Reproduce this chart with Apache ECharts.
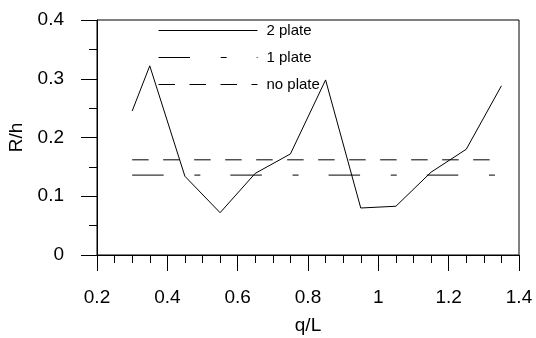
<!DOCTYPE html>
<html>
<head>
<meta charset="utf-8">
<script src="https://cdn.jsdelivr.net/npm/echarts@6/dist/echarts.min.js"></script>
<style>
  html, body { margin: 0; padding: 0; background: #fff; }
  #chart { width: 536px; height: 338px; }
</style>
</head>
<body>
<div id="chart"></div>
<script>
// q/L positions
var qL = [0.3, 0.35, 0.45, 0.55, 0.65, 0.75, 0.85, 0.95, 1.05, 1.15, 1.25, 1.35]
// R/h values
var twoPlate = [0.245, 0.322, 0.134, 0.072, 0.139, 0.172, 0.298, 0.080, 0.083, 0.141, 0.180, 0.288]
var onePlateX = [0.3, 1.35]
var onePlate = [0.136, 0.136]
var noPlateX = [0.3, 1.35]
var noPlate = [0.162, 0.162]
var xTicks = ['0.2', '0.4', '0.6', '0.8', '1', '1.2', '1.4']
var yTicks = ['0', '0.1', '0.2', '0.3', '0.4']

function pairs(xs, ys) {
  return xs.map(function (x, i) { return [x, ys[i]] })
}

var chart = echarts.init(document.getElementById('chart'))
var font = 'Liberation Sans, Arial, sans-serif'

var option = {
  animation: false,
  backgroundColor: '#fff',
  grid: {
    left: 97,
    right: 17,
    top: 20,
    bottom: 83,
    outerBoundsMode: 'none',
    show: true,
    borderColor: '#000',
    borderWidth: 1
  },
  legend: {
    orient: 'vertical',
    left: 158,
    top: 23,
    padding: 0,
    itemWidth: 99,
    itemHeight: 14,
    itemGap: 12,
    data: ['2 plate', '1 plate', 'no plate'],
    itemStyle: { opacity: 0 },
    lineStyle: { width: 1 },
    textStyle: {
      fontFamily: font,
      fontSize: 15,
      color: '#000',
      padding: [0, 0, 0, 4]
    }
  },
  xAxis: {
    type: 'value',
    min: 0.2,
    max: 1.4,
    interval: 0.2,
    name: 'q/L',
    nameLocation: 'middle',
    nameGap: 61,
    nameTextStyle: { fontFamily: font, fontSize: 19, color: '#000' },
    axisLine: { lineStyle: { color: '#000', width: 1 } },
    axisTick: { inside: false, length: 16, lineStyle: { color: '#000' } },
    minorTick: { show: true, splitNumber: 4, length: 8, lineStyle: { color: '#000' } },
    splitLine: { show: false },
    axisLabel: {
      margin: 33,
      fontFamily: font,
      fontSize: 19,
      color: '#000',
      formatter: function (v) {
        return xTicks[Math.round((v - 0.2) / 0.2)]
      }
    }
  },
  yAxis: {
    type: 'value',
    min: 0,
    max: 0.4,
    interval: 0.1,
    name: 'R/h',
    nameLocation: 'middle',
    nameGap: 57,
    nameTextStyle: { fontFamily: font, fontSize: 19, color: '#000' },
    axisLine: { show: true, lineStyle: { color: '#000', width: 1 } },
    axisTick: { show: true, inside: false, length: 16, lineStyle: { color: '#000' } },
    minorTick: { show: true, splitNumber: 2, length: 8, lineStyle: { color: '#000' } },
    splitLine: { show: false },
    axisLabel: {
      margin: 33,
      fontFamily: font,
      fontSize: 19,
      color: '#000',
      formatter: function (v) {
        return yTicks[Math.round(v / 0.1)]
      }
    }
  },
  series: [
    {
      name: '2 plate',
      type: 'line',
      symbol: 'none',
      data: pairs(qL, twoPlate),
      lineStyle: { color: '#000', width: 1, type: 'solid' },
      itemStyle: { color: '#000' }
    },
    {
      name: '1 plate',
      type: 'line',
      symbol: 'none',
      data: pairs(onePlateX, onePlate),
      lineStyle: { color: '#000', width: 1, type: [31.5, 30.7, 6, 30] },
      itemStyle: { color: '#000' }
    },
    {
      name: 'no plate',
      type: 'line',
      symbol: 'none',
      data: pairs(noPlateX, noPlate),
      lineStyle: { color: '#000', width: 1, type: [16.5, 14.5] },
      itemStyle: { color: '#000' }
    }
  ]
}
chart.setOption(option)
</script>
</body>
</html>
